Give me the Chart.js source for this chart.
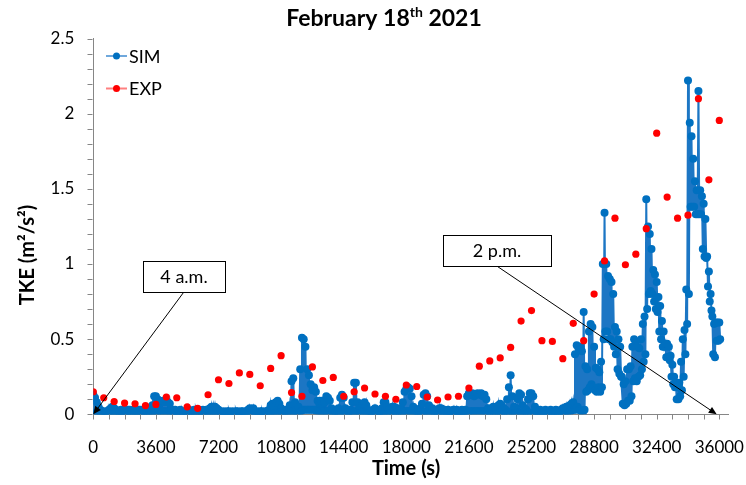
<!DOCTYPE html>
<html>
<head>
<meta charset="utf-8">
<script src="https://cdn.jsdelivr.net/npm/chart.js@4.4.1/dist/chart.umd.min.js"></script>
<style>
  html, body { margin: 0; padding: 0; background: #fff; }
</style>
</head>
<body>
<canvas id="tkeChart" width="746" height="485"></canvas>
<script>
// SIM read as a band every 100 s (upper and lower edge of the noisy trace)
const simStep = 100;
const simHigh = [
  0.13, 0.11, 0.08, 0.05, 0.03, 0.02, 0.02, 0.01, 0.02, 0.03,
  0.04, 0.05, 0.04, 0.03, 0.02, 0.02, 0.03, 0.02, 0.03, 0.02,
  0.03, 0.03, 0.02, 0.03, 0.03, 0.02, 0.03, 0.03, 0.02, 0.03,
  0.03, 0.02, 0.03, 0.03, 0.06, 0.12, 0.12, 0.10, 0.06, 0.08,
  0.09, 0.08, 0.09, 0.08, 0.07, 0.03, 0.02, 0.03, 0.02, 0.02,
  0.03, 0.02, 0.01, 0.02, 0.02, 0.03, 0.02, 0.02, 0.03, 0.03,
  0.02, 0.03, 0.02, 0.03, 0.02, 0.03, 0.03, 0.04, 0.05, 0.05,
  0.05, 0.04, 0.03, 0.02, 0.01, 0.02, 0.01, 0.02, 0.02, 0.01,
  0.02, 0.01, 0.02, 0.02, 0.01, 0.02, 0.02, 0.01, 0.02, 0.03,
  0.04, 0.03, 0.04, 0.02, 0.02, 0.01, 0.02, 0.02, 0.01, 0.02,
  0.02, 0.03, 0.06, 0.07, 0.05, 0.08, 0.09, 0.07, 0.04, 0.03,
  0.02, 0.03, 0.03, 0.06, 0.22, 0.24, 0.08, 0.04, 0.05, 0.30,
  0.51, 0.50, 0.45, 0.30, 0.26, 0.20, 0.16, 0.18, 0.15, 0.09,
  0.07, 0.09, 0.06, 0.08, 0.12, 0.11, 0.09, 0.04, 0.03, 0.02,
  0.03, 0.04, 0.11, 0.13, 0.11, 0.04, 0.03, 0.02, 0.03, 0.08,
  0.21, 0.21, 0.08, 0.05, 0.04, 0.07, 0.08, 0.06, 0.03, 0.02,
  0.02, 0.03, 0.04, 0.03, 0.02, 0.02, 0.04, 0.08, 0.08, 0.05,
  0.03, 0.04, 0.05, 0.05, 0.04, 0.04, 0.03, 0.04, 0.08, 0.15,
  0.17, 0.18, 0.17, 0.12, 0.05, 0.03, 0.02, 0.03, 0.04, 0.07,
  0.13, 0.14, 0.12, 0.06, 0.03, 0.04, 0.03, 0.02, 0.03, 0.04,
  0.04, 0.03, 0.03, 0.02, 0.03, 0.02, 0.02, 0.03, 0.02, 0.03,
  0.02, 0.02, 0.03, 0.02, 0.03, 0.12, 0.14, 0.13, 0.14, 0.12,
  0.13, 0.14, 0.13, 0.14, 0.12, 0.13, 0.10, 0.04, 0.03, 0.04,
  0.05, 0.04, 0.03, 0.06, 0.07, 0.06, 0.04, 0.03, 0.10, 0.18,
  0.26, 0.12, 0.05, 0.04, 0.10, 0.14, 0.13, 0.06, 0.04, 0.03,
  0.10, 0.14, 0.14, 0.12, 0.05, 0.02, 0.02, 0.03, 0.02, 0.02,
  0.03, 0.02, 0.02, 0.03, 0.02, 0.02, 0.03, 0.02, 0.02, 0.03,
  0.04, 0.04, 0.05, 0.05, 0.06, 0.07, 0.08, 0.40, 0.46, 0.44,
  0.45, 0.42, 0.68, 0.32, 0.30, 0.55, 0.60, 0.58, 0.45, 0.31,
  0.30, 0.28, 0.35, 1.00, 1.34, 1.00, 0.92, 0.90, 0.88, 0.80,
  0.58, 0.55, 0.50, 0.45, 0.25, 0.20, 0.22, 0.30, 0.30, 0.32,
  0.45, 0.50, 0.48, 0.45, 0.44, 0.50, 0.60, 0.65, 1.43, 1.25,
  1.20, 1.10, 0.96, 0.93, 0.88, 0.78, 0.72, 0.62, 0.55, 0.47,
  0.47, 0.45, 0.39, 0.33, 0.25, 0.21, 0.18, 0.21, 0.35, 0.50,
  0.56, 0.83, 2.22, 1.94, 1.85, 1.70, 1.55, 1.49, 2.15, 1.49,
  1.45, 1.40, 1.30, 1.05, 0.95, 0.80, 0.65, 0.60, 0.61, 0.61,
  0.61
];
const simLow = [
  0.00, 0.01, 0.01, 0.01, 0.01, 0.01, 0.00, 0.01, 0.01, 0.01,
  0.01, 0.01, 0.01, 0.01, 0.01, 0.00, 0.01, 0.01, 0.01, 0.01,
  0.01, 0.01, 0.01, 0.01, 0.01, 0.01, 0.01, 0.01, 0.01, 0.01,
  0.01, 0.01, 0.01, 0.01, 0.01, 0.02, 0.02, 0.02, 0.02, 0.02,
  0.02, 0.02, 0.02, 0.02, 0.01, 0.01, 0.01, 0.00, 0.01, 0.01,
  0.01, 0.00, 0.00, 0.01, 0.01, 0.01, 0.01, 0.01, 0.01, 0.01,
  0.01, 0.01, 0.01, 0.01, 0.01, 0.01, 0.01, 0.01, 0.01, 0.01,
  0.01, 0.01, 0.00, 0.00, 0.00, 0.00, 0.00, 0.00, 0.00, 0.00,
  0.00, 0.00, 0.00, 0.00, 0.00, 0.00, 0.00, 0.00, 0.01, 0.01,
  0.01, 0.01, 0.01, 0.00, 0.00, 0.00, 0.00, 0.00, 0.00, 0.00,
  0.01, 0.01, 0.01, 0.01, 0.01, 0.01, 0.01, 0.01, 0.01, 0.01,
  0.01, 0.01, 0.01, 0.01, 0.02, 0.02, 0.02, 0.01, 0.01, 0.02,
  0.03, 0.03, 0.03, 0.03, 0.03, 0.03, 0.03, 0.03, 0.02, 0.02,
  0.02, 0.02, 0.02, 0.02, 0.02, 0.02, 0.02, 0.01, 0.01, 0.01,
  0.01, 0.01, 0.01, 0.02, 0.01, 0.01, 0.01, 0.01, 0.01, 0.01,
  0.02, 0.02, 0.02, 0.01, 0.01, 0.01, 0.01, 0.01, 0.01, 0.01,
  0.00, 0.01, 0.01, 0.01, 0.00, 0.00, 0.01, 0.01, 0.01, 0.01,
  0.01, 0.01, 0.01, 0.01, 0.01, 0.01, 0.01, 0.01, 0.01, 0.02,
  0.02, 0.02, 0.02, 0.01, 0.01, 0.01, 0.00, 0.00, 0.01, 0.01,
  0.01, 0.02, 0.01, 0.01, 0.01, 0.01, 0.00, 0.00, 0.00, 0.00,
  0.01, 0.00, 0.00, 0.00, 0.00, 0.00, 0.00, 0.00, 0.00, 0.00,
  0.00, 0.00, 0.00, 0.00, 0.01, 0.01, 0.02, 0.02, 0.02, 0.02,
  0.02, 0.02, 0.02, 0.02, 0.02, 0.02, 0.01, 0.01, 0.01, 0.01,
  0.01, 0.01, 0.01, 0.01, 0.01, 0.01, 0.01, 0.01, 0.01, 0.01,
  0.02, 0.01, 0.01, 0.01, 0.01, 0.01, 0.01, 0.01, 0.01, 0.01,
  0.01, 0.01, 0.01, 0.01, 0.01, 0.00, 0.00, 0.01, 0.01, 0.01,
  0.01, 0.01, 0.01, 0.01, 0.01, 0.01, 0.01, 0.01, 0.01, 0.01,
  0.01, 0.01, 0.02, 0.02, 0.02, 0.03, 0.03, 0.03, 0.05, 0.03,
  0.02, 0.00, 0.03, 0.15, 0.16, 0.18, 0.20, 0.18, 0.16, 0.15,
  0.18, 0.15, 0.18, 0.50, 0.55, 0.55, 0.50, 0.50, 0.48, 0.45,
  0.40, 0.30, 0.27, 0.25, 0.07, 0.06, 0.07, 0.09, 0.09, 0.12,
  0.22, 0.24, 0.22, 0.25, 0.26, 0.30, 0.35, 0.40, 0.70, 0.80,
  0.82, 0.80, 0.75, 0.70, 0.68, 0.55, 0.50, 0.45, 0.45, 0.38,
  0.38, 0.36, 0.25, 0.20, 0.18, 0.10, 0.10, 0.12, 0.16, 0.25,
  0.40, 0.60, 0.80, 1.38, 1.38, 1.38, 1.33, 1.33, 1.33, 1.33,
  1.10, 1.05, 1.04, 0.85, 0.75, 0.69, 0.40, 0.38, 0.49, 0.49,
  0.50
];

// EXP: one measurement every 600 s
const expStep = 600;
const expValues = [
  0.15, 0.11, 0.085, 0.075, 0.07, 0.058, 0.066, 0.115, 0.11, 0.05,
  0.04, 0.13, 0.23, 0.205, 0.275, 0.265, 0.19, 0.305, 0.39, 0.145,
  0.12, 0.315, 0.225, 0.245, 0.12, 0.15, 0.175, 0.135, 0.12, 0.10,
  0.195, 0.185, 0.115, 0.095, 0.115, 0.12, 0.175, 0.32, 0.355, 0.375,
  0.445, 0.62, 0.69, 0.49, 0.485, 0.37, 0.605, 0.49, 0.80, 1.02,
  1.305, 0.995, 1.065, 1.235, 1.87, 1.445, 1.305, 1.325, 2.10, 1.56,
  1.955
];

// axes
const xMax = 36500, xMinorStep = 900;
const xTickLabels = ['0', '3600', '7200', '10800', '14400', '18000', '21600', '25200', '28800', '32400', '36000'];
const yMax = 2.5, yMinorStep = 0.1;
const yTickLabels = ['0', '0.5', '1', '1.5', '2', '2.5'];
const morningTime = 0, afternoonTime = 35850;

// the trace swings between the band edges; high at t, low half a step later
const simPoints = [];
simHigh.forEach((v, i) => {
  simPoints.push({ x: i * simStep, y: v });
  simPoints.push({ x: i * simStep + simStep / 2, y: simLow[i] });
});
const expPoints = expValues.map((v, i) => ({ x: i * expStep, y: v }));

const xLast = Number(xTickLabels[xTickLabels.length - 1]);
const yLast = Number(yTickLabels[yTickLabels.length - 1]);
const xMinor = [];
for (let v = 0; v <= xLast; v += xMinorStep) xMinor.push(v);
const yMinor = [];
for (let k = 0; k <= Math.round(yLast / yMinorStep); k++) yMinor.push(Math.round(k * yMinorStep * 10) / 10);

const FONT = 'Lato, "Open Sans", sans-serif';
const axisGrey = '#868686';

function arrow(ctx, x1, y1, x2, y2) {
  const ang = Math.atan2(y2 - y1, x2 - x1);
  const len = 8, half = 3.5;
  ctx.beginPath();
  ctx.moveTo(x1, y1);
  ctx.lineTo(x2 - Math.cos(ang) * len * 0.8, y2 - Math.sin(ang) * len * 0.8);
  ctx.stroke();
  ctx.beginPath();
  ctx.moveTo(x2, y2);
  ctx.lineTo(x2 - Math.cos(ang) * len + Math.sin(ang) * half, y2 - Math.sin(ang) * len - Math.cos(ang) * half);
  ctx.lineTo(x2 - Math.cos(ang) * len - Math.sin(ang) * half, y2 - Math.sin(ang) * len + Math.cos(ang) * half);
  ctx.closePath();
  ctx.fill();
}

function labelBox(ctx, text, x, y, w, h) {
  ctx.fillStyle = '#fff';
  ctx.fillRect(x, y, w, h);
  ctx.strokeStyle = '#000';
  ctx.lineWidth = 1;
  ctx.strokeRect(x + 0.5, y + 0.5, w, h);
  ctx.fillStyle = '#000';
  ctx.font = `18px ${FONT}`;
  ctx.textAlign = 'center';
  ctx.textBaseline = 'middle';
  ctx.fillText(text, x + w / 2, y + h / 2 + 1);
}

const decor = {
  id: 'decor',
  afterDraw(chart) {
    const { ctx, scales: { x, y } } = chart;
    ctx.save();

    // tick marks, pointing outwards
    const xAxisY = Math.round(y.getPixelForValue(0)) + 0.5;
    const yAxisX = Math.round(x.getPixelForValue(0)) - 0.5;
    ctx.strokeStyle = axisGrey;
    ctx.lineWidth = 1;
    ctx.beginPath();
    xMinor.forEach(v => {
      const px = Math.round(x.getPixelForValue(v)) + 0.5;
      ctx.moveTo(px, xAxisY);
      ctx.lineTo(px, xAxisY + 5);
    });
    yMinor.forEach(v => {
      const py = Math.round(y.getPixelForValue(v)) + 0.5;
      ctx.moveTo(yAxisX, py);
      ctx.lineTo(yAxisX - 5, py);
    });
    ctx.stroke();

    // title with superscript
    const a = 'February 18', b = 'th', c = ' 2021';
    ctx.font = `bold 23px ${FONT}`;
    const wa = ctx.measureText(a).width, wc = ctx.measureText(c).width;
    ctx.font = `bold 14px ${FONT}`;
    const wb = ctx.measureText(b).width;
    const tx = 384 - (wa + wb + wc) / 2;
    ctx.fillStyle = '#000';
    ctx.textAlign = 'left';
    ctx.textBaseline = 'alphabetic';
    ctx.font = `bold 23px ${FONT}`;
    ctx.fillText(a, tx, 26);
    ctx.font = `bold 14px ${FONT}`;
    ctx.fillText(b, tx + wa, 17);
    ctx.font = `bold 23px ${FONT}`;
    ctx.fillText(c, tx + wa + wb, 26);

    // axis titles
    ctx.font = `bold 20px ${FONT}`;
    ctx.textAlign = 'center';
    ctx.textBaseline = 'middle';
    ctx.fillText('Time (s)', 406, 469);
    ctx.save();
    ctx.translate(28, 255);
    ctx.rotate(-Math.PI / 2);
    ctx.fillText('TKE (m²/s²)', 0, 0);
    ctx.restore();

    // legend
    const items = [
      { label: 'SIM', line: '#6FA8DC', dot: '#0070C0', y: 56 },
      { label: 'EXP', line: '#FF8080', dot: '#FF0000', y: 88.5 }
    ];
    items.forEach(it => {
      ctx.strokeStyle = it.line;
      ctx.lineWidth = 2;
      ctx.beginPath();
      ctx.moveTo(106, it.y);
      ctx.lineTo(127, it.y);
      ctx.stroke();
      ctx.fillStyle = it.dot;
      ctx.beginPath();
      ctx.arc(116.5, it.y, 3.5, 0, Math.PI * 2);
      ctx.fill();
      ctx.fillStyle = '#000';
      ctx.font = `18px ${FONT}`;
      ctx.textAlign = 'left';
      ctx.textBaseline = 'middle';
      ctx.fillText(it.label, 129, it.y + 1);
    });

    // annotations
    ctx.strokeStyle = '#000';
    ctx.fillStyle = '#000';
    ctx.lineWidth = 1;
    arrow(ctx, 183.5, 292.5, x.getPixelForValue(morningTime), y.getPixelForValue(0));
    arrow(ctx, 497.5, 266.5, x.getPixelForValue(afternoonTime), y.getPixelForValue(0));
    labelBox(ctx, '4 a.m.', 143, 261, 82, 31);
    labelBox(ctx, '2 p.m.', 443, 235, 108, 31);

    ctx.restore();
  }
};

const tickFont = { family: FONT, size: 17 };

new Chart(document.getElementById('tkeChart'), {
  type: 'scatter',
  data: {
    datasets: [
      {
        label: 'EXP',
        data: expPoints,
        showLine: false,
        pointRadius: 3.6,
        pointBackgroundColor: '#FF0000',
        pointBorderWidth: 0,
        order: 0
      },
      {
        label: 'SIM',
        data: simPoints,
        showLine: true,
        borderColor: '#1C76C4',
        borderWidth: 2,
        pointRadius: 4,
        pointBackgroundColor: '#0070C0',
        pointBorderWidth: 0,
        order: 1
      }
    ]
  },
  options: {
    responsive: false,
    animation: false,
    devicePixelRatio: 1,
    layout: { padding: { top: 38.5, right: 18, left: 0, bottom: 0 } },
    plugins: {
      legend: { display: false },
      title: { display: false },
      tooltip: { enabled: false }
    },
    scales: {
      x: {
        type: 'linear',
        min: 0,
        max: xMax,
        afterBuildTicks: s => { s.ticks = xTickLabels.map(t => ({ value: Number(t) })); },
        ticks: {
          autoSkip: false,
          maxRotation: 0,
          padding: 23,
          color: '#000',
          font: tickFont,
          callback: v => String(v)
        },
        grid: { display: false, drawTicks: false },
        border: { color: axisGrey },
        afterFit: s => { s.height = 70.7; s.paddingLeft = 0; s.paddingRight = 0; }
      },
      y: {
        min: 0,
        max: yMax,
        afterBuildTicks: s => { s.ticks = yTickLabels.map(t => ({ value: Number(t) })); },
        ticks: {
          autoSkip: false,
          padding: 19,
          color: '#000',
          font: tickFont,
          callback: v => String(v)
        },
        grid: { display: false, drawTicks: false },
        border: { color: axisGrey },
        afterFit: s => { s.width = 93.3; s.paddingTop = 0; s.paddingBottom = 0; }
      }
    }
  },
  plugins: [decor]
});
</script>
</body>
</html>
